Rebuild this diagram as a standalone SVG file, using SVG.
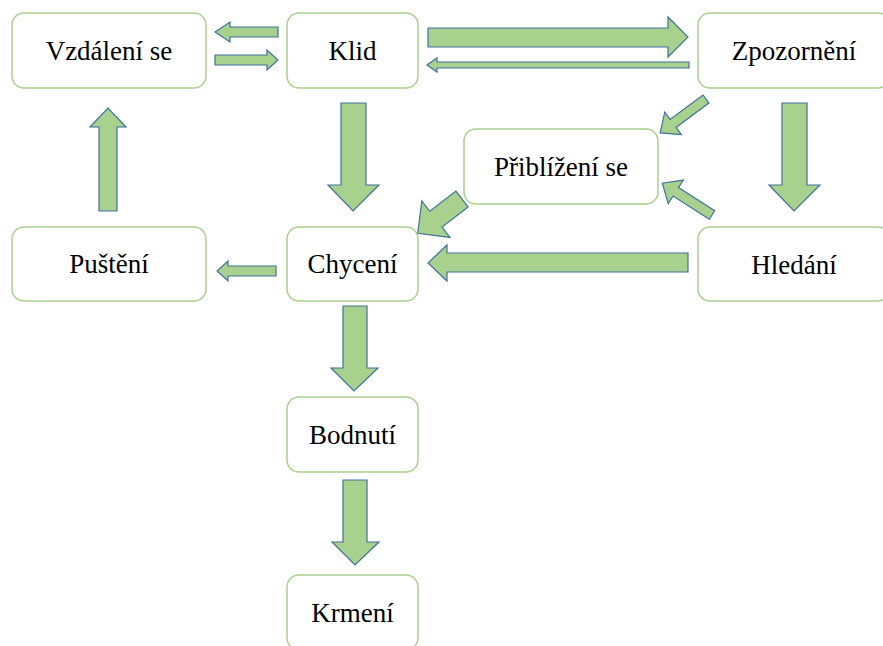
<svg xmlns="http://www.w3.org/2000/svg" width="883" height="646" viewBox="0 0 883 646">
<style>
.box{fill:#ffffff;stroke:#a9d18e;stroke-width:1.5}
.arr{fill:#a9d18e;stroke:#41719c;stroke-width:1.2;stroke-linejoin:miter}
</style>
<rect width="883" height="646" fill="#ffffff"/>
<g id="connectors">
<polygon class="arr" points="278,27 230,27 230,22 215,32 230,42 230,37 278,37"/>
<polygon class="arr" points="215,55 267,55 267,50 278,60 267,70 267,65 215,65"/>
<polygon class="arr" points="428,28 668,28 668,17 688,37 668,57 668,47 428,47"/>
<polygon class="arr" points="689,62 437,62 437,58 427,65 437,72 437,68 689,68"/>
<polygon class="arr" points="782,103 807,103 807,185 820,185 794,211 769,185 782,185"/>
<polygon class="arr" points="688,253 447,253 447,245 428,263 447,281 447,272 688,272"/>
<polygon class="arr" points="276,266 228,266 228,261 217,271 228,281 228,276 276,276"/>
<polygon class="arr" points="99,211 99,127 90,127 108,108 126,127 117,127 117,211"/>
<polygon class="arr" points="341,103 366,103 366,185 379,185 353,211 328,185 341,185"/>
<polygon class="arr" points="343,306 367,306 367,368 378,368 354,391 331,368 343,368"/>
<polygon class="arr" points="343,480 367,480 367,542 379,542 355,565 332,542 343,542"/>
<polygon class="arr" transform="translate(706,99) rotate(143.5)" points="0,-5 41,-5 41,-14 57,0 41,14 41,5 0,5"/>
<polygon class="arr" transform="translate(712,215) rotate(212.6)" points="0,-5 43,-5 43,-14 59,0 43,14 43,5 0,5"/>
<polygon class="arr" transform="translate(462,199) rotate(142.3)" points="0,-10 33,-10 33,-23 56,0 33,23 33,10 0,10"/>
</g>
<g font-family="Liberation Serif, serif" font-size="27" fill="#000000" text-anchor="middle">
<g id="vzdaleni"><rect class="box" x="12" y="13" width="194" height="75" rx="12"/><text x="109" y="60">Vzdálení se</text></g>
<g id="klid"><rect class="box" x="287" y="13" width="131" height="75" rx="12"/><text x="352.5" y="60">Klid</text></g>
<g id="zpozorneni"><rect class="box" x="698" y="13" width="192" height="75" rx="12"/><text x="794" y="60">Zpozornění</text></g>
<g id="priblizeni"><rect class="box" x="464" y="129" width="194" height="75" rx="12"/><text x="561" y="176">Přiblížení se</text></g>
<g id="pusteni"><rect class="box" x="12" y="227" width="194" height="74" rx="12"/><text x="109" y="273">Puštění</text></g>
<g id="chyceni"><rect class="box" x="287" y="227" width="131" height="74" rx="12"/><text x="352.5" y="273">Chycení</text></g>
<g id="hledani"><rect class="box" x="698" y="227" width="192" height="74" rx="12"/><text x="794" y="274">Hledání</text></g>
<g id="bodnuti"><rect class="box" x="287" y="397" width="131" height="75" rx="12"/><text x="352.5" y="444">Bodnutí</text></g>
<g id="krmeni"><rect class="box" x="287" y="575" width="131" height="75" rx="12"/><text x="352.5" y="622">Krmení</text></g>
</g>
</svg>
